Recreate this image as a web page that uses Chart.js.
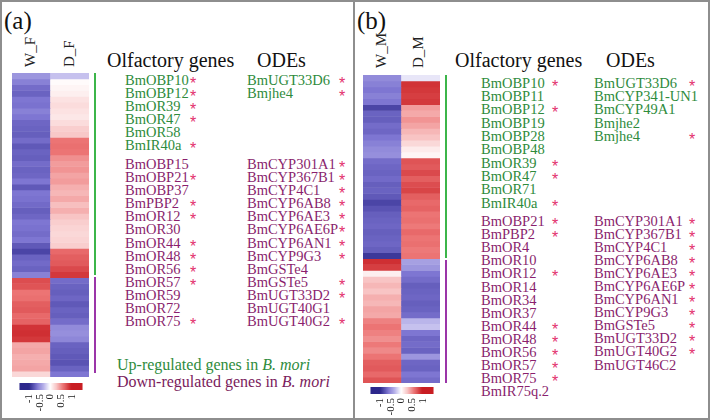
<!DOCTYPE html>
<html><head><meta charset="utf-8">
<script src="https://cdn.jsdelivr.net/npm/chart.js@4.4.1/dist/chart.umd.min.js"></script>
<style>
body{margin:0;background:#fff;}
#wrap{position:relative;width:710px;height:420px;overflow:hidden;font-family:'Liberation Serif','Times New Roman',serif;background:#fff;}
.t{position:absolute;white-space:nowrap;line-height:12px;}
.lst{position:absolute;white-space:nowrap;font-size:14.5px;}
.st{position:absolute;white-space:pre;font-family:'Liberation Sans',sans-serif;font-size:16px;color:#e3336d;}
.rot{position:absolute;white-space:nowrap;transform-origin:0 50%;transform:rotate(-90deg);font-size:15px;line-height:12px;color:#222;}
canvas{position:absolute;}
.ln{position:absolute;}
</style></head><body><div id="wrap">
<div class="ln" style="left:0;top:0;width:710px;height:420px;box-sizing:border-box;border:2px solid #8e8e8e;"></div>
<div class="ln" style="left:353px;top:0;width:2px;height:420px;background:#8e8e8e;"></div>
<canvas id="hmA" width="77" height="304" style="left:12px;top:73px;"></canvas>
<canvas id="hmB" width="77" height="308" style="left:363px;top:75px;"></canvas>
<canvas id="cbA" width="78" height="32" style="left:12px;top:383px;"></canvas>
<canvas id="cbB" width="78" height="32" style="left:363px;top:387px;"></canvas>
</div>
<script>
// ---- data ----
const colsA = ['W_F', 'D_F'];
const colsB = ['W_M', 'D_M'];
const wF = [-0.45,-0.55,-0.65,-0.7,-0.6,-0.62,-0.55,-0.6,-0.68,-0.7,-0.72,-0.65,-0.75,-0.7,-0.72,-0.65,-0.7,-0.68,-0.6,-0.75,-0.6,-0.62,-0.66,-0.72,-0.68,-0.6,-0.62,-0.65,-0.6,-0.75,-0.85,-0.7,-0.66,-0.7,-0.55,
  0.78,0.75,0.6,0.62,0.7,0.72,0.65,0.68,0.9,0.92,0.88,0.4,0.42,0.38,0.4,0.42,0.2];
const dF = [-0.25,0.02,0.05,0.08,0.15,0.18,0.15,0.12,0.18,0.25,0.28,0.6,0.62,0.6,0.5,0.45,0.48,0.42,0.45,0.38,0.35,0.4,0.32,0.38,0.3,0.25,0.22,0.2,0.22,0.25,0.65,0.7,0.72,0.8,0.88,
  -0.65,-0.7,-0.72,-0.68,-0.75,-0.7,-0.72,-0.65,-0.5,-0.48,-0.52,-0.7,-0.72,-0.75,-0.78,-0.7,-0.6];
const wM = [-0.5,-0.55,-0.6,-0.55,-0.6,-0.85,-0.7,-0.72,-0.65,-0.68,-0.6,-0.55,-0.5,-0.48,-0.65,-0.68,-0.7,-0.66,-0.72,-0.7,-0.75,-0.85,-0.78,-0.72,-0.7,-0.68,-0.72,-0.7,-0.68,-0.72,-0.92,
  0.92,0.85,0.08,0.3,0.35,0.3,0.38,0.35,0.42,0.4,0.55,0.6,0.55,0.5,0.58,0.52,0.6,0.7,0.72,0.65,0.75];
const dM = [-0.1,0.9,0.88,0.85,0.88,0.45,0.4,0.48,0.42,0.35,0.3,0.2,0.1,0.05,0.75,0.72,0.8,0.7,0.78,0.82,0.7,0.65,0.68,0.6,0.62,0.58,0.65,0.6,0.62,0.58,0.6,
  -0.4,-0.45,-0.6,-0.65,-0.72,-0.7,-0.68,-0.72,-0.7,-0.65,-0.3,-0.25,-0.6,-0.68,-0.65,-0.7,-0.45,-0.68,-0.7,-0.6,-0.65];
const scaleTicks = [-1, -0.5, 0, 0.5, 1];

const olfA_up = ['BmOBP10*','BmOBP12*','BmOR39*','BmOR47*','BmOR58','BmIR40a*'];
const olfA_down = ['BmOBP15','BmOBP21*','BmOBP37','BmPBP2*','BmOR12*','BmOR30','BmOR44*','BmOR48*','BmOR56*','BmOR57*','BmOR59','BmOR72','BmOR75*'];
const odeA_up = ['BmUGT33D6*','Bmjhe4*'];
const odeA_down = ['BmCYP301A1*','BmCYP367B1*','BmCYP4C1*','BmCYP6AB8*','BmCYP6AE3*','BmCYP6AE6P*','BmCYP6AN1*','BmCYP9G3*','BmGSTe4','BmGSTe5*','BmUGT33D2*','BmUGT40G1','BmUGT40G2*'];
const olfB_up = ['BmOBP10*','BmOBP11','BmOBP12*','BmOBP19','BmOBP28','BmOBP48','BmOR39*','BmOR47*','BmOR71','BmIR40a*'];
const olfB_down = ['BmOBP21*','BmPBP2*','BmOR4','BmOR10','BmOR12*','BmOR14','BmOR34','BmOR37','BmOR44*','BmOR48*','BmOR56*','BmOR57*','BmOR75*','BmIR75q.2'];
const odeB_up = ['BmUGT33D6*','BmCYP341-UN1','BmCYP49A1','Bmjhe2','Bmjhe4*'];
const odeB_down = ['BmCYP301A1*','BmCYP367B1*','BmCYP4C1*','BmCYP6AB8*','BmCYP6AE3*','BmCYP6AE6P*','BmCYP6AN1*','BmCYP9G3*','BmGSTe5*','BmUGT33D2*','BmUGT40G2*','BmUGT46C2'];

// ---- colour map ----
const stops = [[-1,[45,40,140]],[-0.6,[126,118,210]],[-0.3,[186,181,234]],[0,[255,255,255]],[0.3,[248,196,196]],[0.6,[236,116,116]],[1,[200,30,35]]];
function cmap(v){
  v = Math.max(-1, Math.min(1, v));
  for (let i=0;i<stops.length-1;i++){
    const [a,ca]=stops[i],[b,cb]=stops[i+1];
    if (v>=a && v<=b){const t=(v-a)/(b-a);
      return 'rgb('+ca.map((c,k)=>Math.round(c+(cb[k]-c)*t)).join(',')+')';}
  }
  return 'rgb(255,255,255)';
}

const base = {responsive:false, animation:false, events:[], devicePixelRatio:1,
  plugins:{legend:{display:false}, tooltip:{enabled:false}}, layout:{padding:0}};

function heatmap(id, cols, w, d){
  const datasets = w.map((v,i)=>({data:[1,1], backgroundColor:[cmap(v), cmap(d[i])], borderWidth:0, barPercentage:1, categoryPercentage:1}));
  new Chart(document.getElementById(id), {type:'bar', data:{labels:cols, datasets},
    options:Object.assign({}, base, {scales:{x:{stacked:true, display:false}, y:{stacked:true, display:false, reverse:true, min:0, max:w.length}}})});
}
function colorbar(id){
  const lo=-1.45, hi=1.5, n=60, step=(hi-lo)/n;
  const pts=[]; for(let i=0;i<n;i++) pts.push({x:lo+step*(i+0.5), y:1});
  new Chart(document.getElementById(id), {type:'bar',
    data:{datasets:[{data:pts, backgroundColor:pts.map(p=>cmap(p.x)), borderWidth:0, barPercentage:1, categoryPercentage:1}]},
    options:Object.assign({}, base, {scales:{
      x:{type:'linear', min:lo, max:hi, grid:{display:false, drawTicks:false}, border:{display:false},
         ticks:{font:{family:'Liberation Serif', size:11}, color:'#222', minRotation:90, maxRotation:90, padding:4, autoSkip:false, callback:v=>String(v)},
         afterBuildTicks:s=>{s.ticks = scaleTicks.map(v=>({value:v}));}, afterFit:s=>{s.height=25;}},
      y:{display:false, min:0, max:1}}})});
}
heatmap('hmA', colsA, wF, dF);
heatmap('hmB', colsB, wM, dM);
colorbar('cbA');
colorbar('cbB');

// ---- text ----
const wrap = document.getElementById('wrap');
function add(html, cls, css){const e=document.createElement('div'); e.className=cls; e.innerHTML=html; e.style.cssText=css; wrap.appendChild(e); return e;}
const GREEN='#2e8b3c', PURPLE='#8a1f6e';
function list(items, x, y0, dy, color, starX){
  const names = items.map(s=>s.replace('*',''));
  add(names.join('<br>'), 'lst', `left:${x}px;top:${y0-dy/2}px;line-height:${dy}px;color:${color};`);
  const stars = items.map(s=>s.endsWith('*') ? '*' : ' ');
  add(stars.join('\n'), 'st', `left:${starX}px;top:${y0-dy/2+3}px;line-height:${dy}px;`);
}
list(olfA_up, 125, 80.5, 13, GREEN, 190);
list(odeA_up, 247, 80.5, 13, GREEN, 339);
list(olfA_down, 125, 164.5, 13.1, PURPLE, 190);
list(odeA_down, 247, 164.5, 13.1, PURPLE, 339);
list(olfB_up, 481, 83.3, 13.33, GREEN, 552);
list(odeB_up, 594, 83.3, 13.33, GREEN, 689);
list(olfB_down, 481, 221.7, 13.08, PURPLE, 552);
list(odeB_down, 594, 221.7, 13.03, PURPLE, 689);

add('(a)', 't', 'left:4px;top:9px;font-size:25px;line-height:24px;color:#111;');
add('(b)', 't', 'left:357px;top:9px;font-size:25px;line-height:24px;color:#111;');
add('Olfactory genes', 't', 'left:107px;top:50px;font-size:20px;line-height:20px;color:#111;');
add('ODEs', 't', 'left:257px;top:50px;font-size:20px;line-height:20px;color:#111;');
add('Olfactory genes', 't', 'left:455px;top:50px;font-size:20px;line-height:20px;color:#111;');
add('ODEs', 't', 'left:606px;top:50px;font-size:20px;line-height:20px;color:#111;');
add('Up-regulated genes in <i>B. mori</i><br><span style="color:#7a1b5c">Down-regulated genes in <i>B. mori</i></span>', 't',
    `left:117px;top:356px;font-size:16px;line-height:17px;color:${GREEN};`);

// rotated column labels: text starts at the bottom (y) and runs upward
add(colsA[0], 'rot', 'left:30px;top:61px;');
add(colsA[1], 'rot', 'left:69px;top:61px;');
add(colsB[0], 'rot', 'left:381px;top:62px;');
add(colsB[1], 'rot', 'left:418px;top:62px;');

// group bars
add('', 'ln', 'left:94px;top:73px;width:2px;height:202px;background:#3cb54a;');
add('', 'ln', 'left:94px;top:277px;width:2px;height:96px;background:#9b35a8;');
add('', 'ln', 'left:445px;top:75px;width:2px;height:183px;background:#3cb54a;');
add('', 'ln', 'left:445px;top:260px;width:2px;height:123px;background:#9b35a8;');
</script></body></html>
